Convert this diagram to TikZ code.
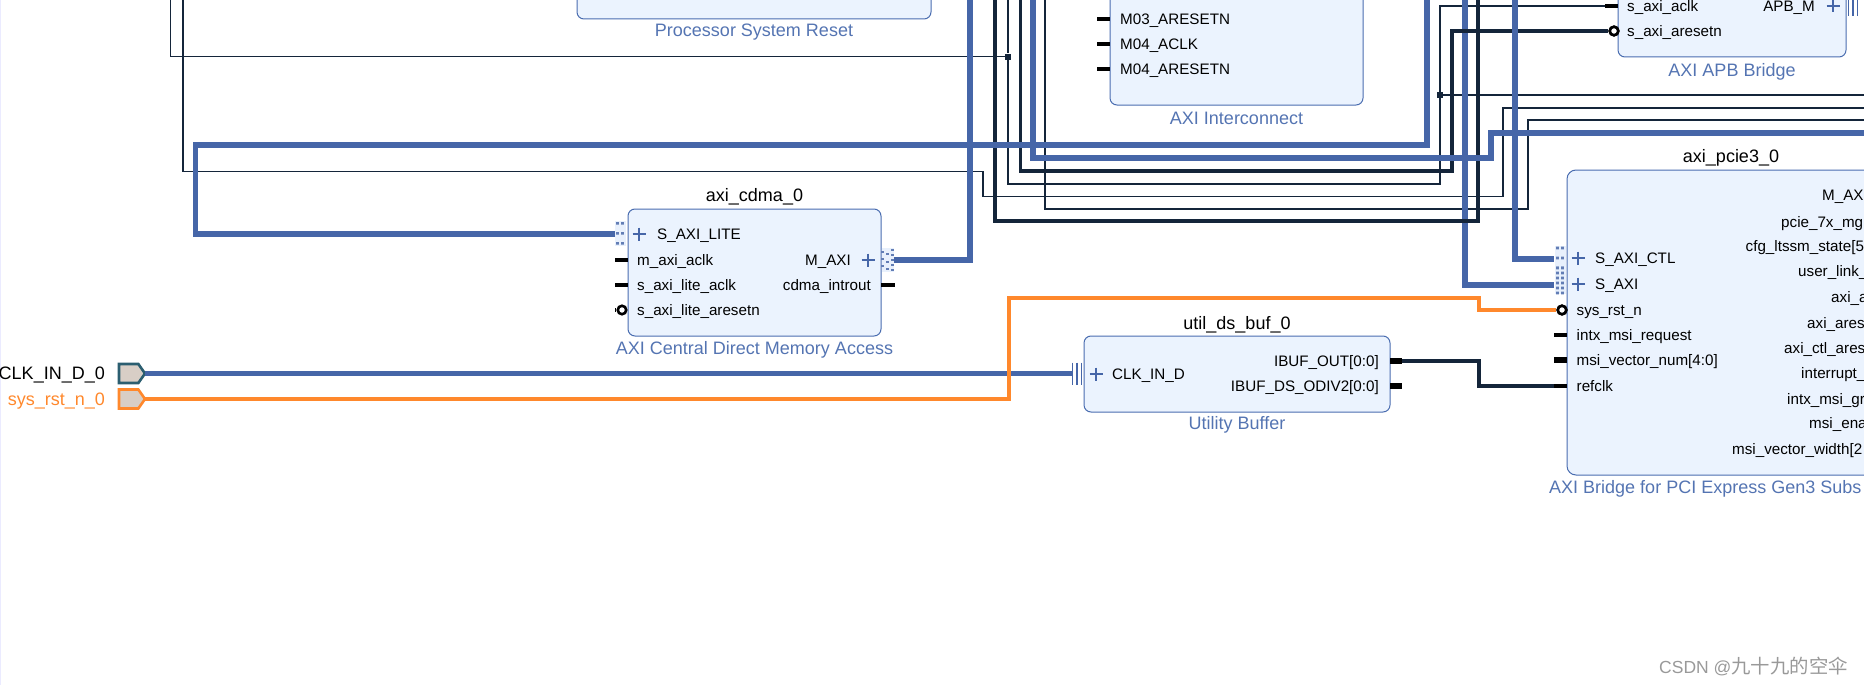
\documentclass[tikz,border=0pt]{standalone}
\usepackage{fontspec}
\setmainfont{Liberation Sans}
\newfontfamily\cjkfont{Noto Sans CJK SC}
\usetikzlibrary{positioning,shapes.symbols}
\definecolor{ipfill}{RGB}{235,243,254}
\definecolor{ipborder}{RGB}{74,109,176}
\definecolor{iplabel}{RGB}{84,116,178}
\definecolor{buswire}{RGB}{70,102,168}
\definecolor{darkwire}{RGB}{20,37,58}
\definecolor{rstwire}{RGB}{255,136,44}
\definecolor{portfill}{RGB}{216,206,198}
\definecolor{clkport}{RGB}{43,94,112}
\definecolor{busfill}{RGB}{232,240,252}
\tikzset{
  ip block/.style={
    rectangle,
    draw=ipborder,
    fill=ipfill,
    line width=1pt,
    rounded corners=7pt,
    inner sep=0pt,
    outer sep=0pt,
    anchor=north west
  },
  ip title/.style={font=\fontsize{18}{20}\selectfont, inner sep=0pt, yshift=-2pt},
  ip label/.style={font=\fontsize{18}{20}\selectfont, text=iplabel, inner sep=0pt, yshift=-1.5pt},
  pin text/.style={
    font=\fontsize{15.2}{17}\selectfont,
    text height=11pt,
    text depth=3pt,
    inner sep=0pt,
    yshift=-1.2pt
  },
  pin west/.style={pin text, anchor=west},
  pin east/.style={pin text, anchor=east},
  stub/.style={line width=3.5pt, black},
  wide stub/.style={line width=6pt, black},
  bubble/.style={
    circle,
    draw=black,
    fill=white,
    line width=2.6pt,
    minimum size=8.5pt,
    inner sep=0pt
  },
  thin wire/.style={line width=1.1pt, darkwire},
  dark wire/.style={line width=3.6pt, darkwire},
  bus wire/.style={line width=5.2pt, buswire},
  clk wire/.style={line width=4.4pt, buswire},
  rst wire/.style={line width=3.4pt, rstwire},
  joint/.style={rectangle, fill=darkwire, minimum size=6pt, inner sep=0pt},
  top port/.style={
    signal,
    signal to=east,
    signal pointer angle=110,
    fill=portfill,
    line width=2.6pt,
    minimum width=26pt,
    minimum height=19pt,
    inner sep=0pt,
    outer sep=0pt
  },
  plus mark/.pic={
    \draw[buswire, line width=1.3pt] (-6.5,0) -- (6.5,0) (0,-6.5) -- (0,6.5);
  },
  % slave side, three rows of dots
  slave dots/.pic={
    \fill[busfill] (-5.5,-12.5) rectangle (5.5,12.5);
    \foreach \ypos in {-10,0,10}
      \fill[buswire!85] (-3.8,\ypos-1.3) rectangle ++(2.6,2.6) (1.2,\ypos-1.3) rectangle ++(2.6,2.6);
  },
  % wider slave side, six rows
  dense dots/.pic={
    \fill[busfill] (-5.5,-13.5) rectangle (5.5,13.5);
    \foreach \ypos in {-12.5,-7.5,-2.5,2.5,7.5,12.5}
      \fill[buswire!85] (-3.8,\ypos-1.3) rectangle ++(2.6,2.6) (1.2,\ypos-1.3) rectangle ++(2.6,2.6);
  },
  % master side, staggered columns
  master dots/.pic={
    \fill[busfill] (-6,-12) rectangle (6,12);
    \foreach \xpos/\ypos in {-5/-8,-5/-1,-5/6,0/-6,0/2,0/9,5/-10,5/-5,5/0,5/5,5/10}
      \fill[buswire!85] (\xpos-1.2,\ypos-1.2) rectangle ++(2.4,2.4);
  },
  bus bars/.pic={
    \draw[buswire, line width=1.3pt] (-4.5,-11) -- (-4.5,11) (0,-11) -- (0,11) (4.5,-11) -- (4.5,11);
  }
}

\begin{document}
\begin{tikzpicture}[x=1pt, y=-1pt]

  \useasboundingbox (0,0) rectangle (1864,685);
  \clip (0,0) rectangle (1864,685);
  \draw[blue!8, line width=1pt] (0.5,0) -- (0.5,685);

  % IP blocks
  \node[ip block, minimum width=354pt, minimum height=119pt] (reset) at (577,-100) {};
  \node[ip label] (reset label) at (754,31) {Processor System Reset};

  \node[ip block, minimum width=253pt, minimum height=205pt] (xbar) at (1110,-100) {};
  \node[ip label, below=5pt of xbar] (xbar label) {AXI Interconnect};

  \node[ip block, minimum width=228pt, minimum height=157pt] (apb) at (1618,-100) {};
  \node[ip label, below=5pt of apb] (apb label) {AXI APB Bridge};

  \node[ip block, minimum width=253pt, minimum height=127pt] (cdma) at (628,209) {};
  \node[ip title, above=6pt of cdma] (cdma title) {axi\_cdma\_0};
  \node[ip label, below=4pt of cdma] (cdma label) {AXI Central Direct Memory Access};

  \node[ip block, minimum width=306pt, minimum height=76pt] (buf) at (1084,336) {};
  \node[ip title, above=5pt of buf] (buf title) {util\_ds\_buf\_0};
  \node[ip label, below=3pt of buf] (buf label) {Utility Buffer};

  \node[ip block, rounded corners=9pt, minimum width=400pt, minimum height=305pt] (pcie) at (1567,170) {};
  \node[ip title] (pcie title) at (1731,156) {axi\_pcie3\_0};
  \node[ip label, anchor=west] (pcie label) at (1549,487) {AXI Bridge for PCI Express Gen3 Subs};

  % External ports
  \node[top port, draw=clkport, anchor=west] (clk port) at (119,373.5) {};
  \node[top port, draw=rstwire, anchor=west] (rst port) at (119,399) {};
  \node[ip title, anchor=east] (clk name) at (105,373.5) {CLK\_IN\_D\_0};
  \node[ip title, anchor=east, text=rstwire] (rst name) at (105,399) {sys\_rst\_n\_0};

  % Pin names
  \foreach \ypos/\txt in {260/m\_axi\_aclk, 285/s\_axi\_lite\_aclk, 310/s\_axi\_lite\_aresetn}
    \node[pin west] (cdma pin \ypos) at (637,\ypos) {\txt};
  \node[pin west] (cdma lite) at (657,234) {S\_AXI\_LITE};
  \node[pin east] (cdma maxi) at (851,260) {M\_AXI};
  \node[pin east] (cdma intr) at (871,285) {cdma\_introut};

  \foreach \ypos/\txt in {19/M03\_ARESETN, 44/M04\_ACLK, 69/M04\_ARESETN}
    \node[pin west] (xbar pin \ypos) at (1120,\ypos) {\txt};

  \node[pin west] (apb aclk) at (1627,6) {s\_axi\_aclk};
  \node[pin west] (apb rstn) at (1627,31) {s\_axi\_aresetn};
  \node[pin east] (apb m) at (1815,6) {APB\_M};

  \node[pin west] (buf in) at (1112,374) {CLK\_IN\_D};
  \node[pin east] (buf out) at (1379,361) {IBUF\_OUT[0:0]};
  \node[pin east] (buf div) at (1379,386) {IBUF\_DS\_ODIV2[0:0]};

  \node[pin west] (pcie ctl) at (1595,258) {S\_AXI\_CTL};
  \node[pin west] (pcie saxi) at (1595,284) {S\_AXI};
  \foreach \ypos/\txt in {310/sys\_rst\_n, 335/intx\_msi\_request, 360/msi\_vector\_num[4:0], 386/refclk}
    \node[pin west] (pcie pin \ypos) at (1576.5,\ypos) {\txt};

  \foreach \xpos/\ypos/\txt in {1822/195/M\_AX, 1781/222/pcie\_7x\_mg, 1745.5/246/cfg\_ltssm\_state[5,
      1798/271/user\_link\_, 1831/297/axi\_a, 1807/323/axi\_ares, 1784/348/axi\_ctl\_ares,
      1801/373/interrupt\_, 1787/399/intx\_msi\_gr, 1809/423/msi\_ena, 1732/449/msi\_vector\_width[2}
    \node[pin west] (pcie out \ypos) at (\xpos,\ypos) {\txt};

  % Pin marks
  \draw[stub] (615,260) -- (cdma.west |- 0,260);
  \draw[stub] (615,285) -- (cdma.west |- 0,285);
  \draw[stub] (cdma.east |- 0,285) -- (895,285);
  \foreach \ypos in {19,44,69}
    \draw[stub] (1097,\ypos) -- (xbar.west |- 0,\ypos);
  \draw[stub] (1605,6) -- (apb.west |- 0,6);
  \draw[wide stub] (buf.east |- 0,361) -- (1402,361);
  \draw[wide stub] (buf.east |- 0,386) -- (1402,386);
  \draw[stub] (1554,335) -- (pcie.west |- 0,335);
  \draw[wide stub] (1554,360) -- (pcie.west |- 0,360);
  \draw[stub] (1554,386) -- (pcie.west |- 0,386);

  % Bus marks
  \pic at (620,233.3) {slave dots};
  \pic at (887.5,260) {master dots};
  \pic at (1560,258) {slave dots};
  \pic at (1560,280.5) {dense dots};
  \pic at (1077,373.5) {bus bars};
  \pic at (1853,5) {bus bars};
  \pic at (639,234) {plus mark};
  \pic at (868,260) {plus mark};
  \pic at (1096,374) {plus mark};
  \pic at (1833,6) {plus mark};
  \pic at (1578,258) {plus mark};
  \pic at (1578,284) {plus mark};

  % Wire ends
  \coordinate (cdma slave) at (615,234);
  \coordinate (cdma master) at (894,260);
  \coordinate (pcie ctl in) at (1554,259);
  \coordinate (pcie axi in) at (1554,285);
  \coordinate (buf clk) at (1072,373.5);
  \coordinate (buf drv) at (1402,361);
  \coordinate (pcie clk) at (1554,386);
  \coordinate (apb clk) at (1605,6);

  % Joints
  \node[joint] (joint a) at (1008,56.7) {};
  \node[joint] (joint b) at (1440,95) {};
  \node[bubble] (cdma bubble) at (622,310) {};
  \node[bubble] (apb bubble) at (1614,31) {};
  \node[bubble] (pcie bubble) at (1562,310) {};
  \draw[stub] (615,310) -- (cdma bubble);

  % Thin nets
  \draw[thin wire] (170.6,-5) |- (joint a);
  \draw[thin wire] (1008,-5) -- (joint a) -- (1008,184) -- (1440,184) -- (joint b) -- (1440,6) -- (apb clk);
  \draw[thin wire] (joint b) -- (1870,95);
  \draw[thin wire] (183,-5) -- (183,171.7) -- (983,171.7) -- (983,196.7) -- (1503,196.7) -- (1503,108) -- (1870,108);
  \draw[thin wire] (1045,-5) -- (1045,209) -- (1528,209) -- (1528,120) -- (1870,120);

  % Busses and clock nets
  \draw[bus wire] (1465,-5) -- (1465,285) -- (pcie axi in);
  \draw[dark wire] (995,-5) -- (995,221) -- (1478,221) -- (1478,-5);
  \draw[dark wire] (1020.6,-5) -- (1020.6,171) -- (1452,171) -- (1452,31) -- (apb bubble);
  \draw[bus wire] (cdma slave) -- (195.6,234) -- (195.6,145) -- (1427,145) -- (1427,-5);
  \draw[bus wire] (1033,-5) -- (1033,158) -- (1491,158) -- (1491,133) -- (1870,133);
  \draw[bus wire] (cdma master) -- (970,260) -- (970,-5);
  \draw[bus wire] (1515,-5) -- (1515,259) -- (pcie ctl in);
  \draw[clk wire] (clk port.east) -- (buf clk);
  \draw[dark wire] (buf drv) -- (1479,361) -- (1479,386) -- (pcie clk);
  \draw[rst wire] (rst port.east) -- (1009,399) -- (1009,298) -- (1479,298) -- (1479,310) -- (pcie bubble);
  \node[bubble] (pcie ring) at (pcie bubble) {};
  \node[bubble] (apb ring) at (apb bubble) {};

  % Watermark
  \node[anchor=east, text=black!40, inner sep=0pt] (mark) at (1848,666)
    {\fontsize{17.5}{20}\selectfont CSDN @{\cjkfont\fontsize{19.4}{20}\selectfont 九十九的空伞}};

\end{tikzpicture}
\end{document}
